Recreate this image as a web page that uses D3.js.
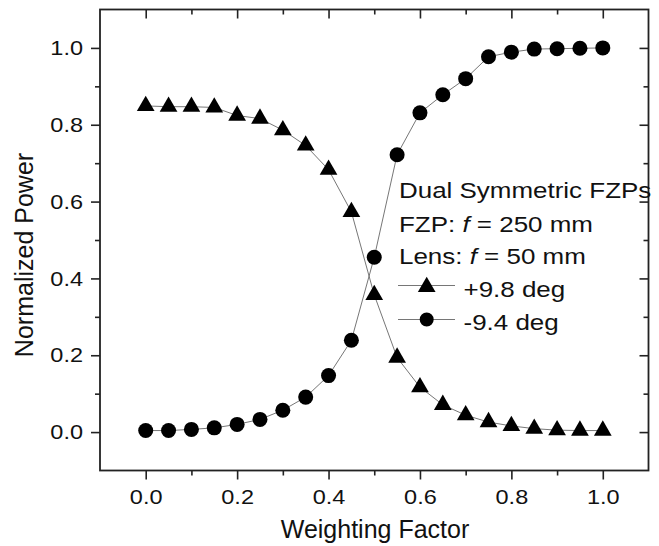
<!DOCTYPE html>
<html>
<head>
<meta charset="utf-8">
<script src="https://cdn.jsdelivr.net/npm/d3@7"></script>
<style>
  body { margin: 0; background: #fff; }
  text { font-family: "Liberation Sans", Arial, sans-serif; fill: #111; }
</style>
</head>
<body>
<div id="chart"></div>
<script>
// weighting factor (x) and the two measured series
const weighting = [0, 0.05, 0.1, 0.15, 0.2, 0.25, 0.3, 0.35, 0.4, 0.45, 0.5,
                   0.55, 0.6, 0.65, 0.7, 0.75, 0.8, 0.85, 0.9, 0.95, 1.0];
const plus98 = [0.849, 0.847, 0.847, 0.845, 0.824, 0.816, 0.786, 0.746, 0.683, 0.573, 0.357,
                0.194, 0.117, 0.071, 0.044, 0.026, 0.016, 0.009, 0.005, 0.004, 0.004];
const minus94 = [0.004, 0.004, 0.007, 0.011, 0.02, 0.033, 0.057, 0.091, 0.147, 0.239, 0.455,
                 0.722, 0.831, 0.878, 0.92, 0.977, 0.989, 0.997, 0.998, 0.999, 1.0];
const majorTicks = [0, 0.2, 0.4, 0.6, 0.8, 1.0];
const minorTicks = [0.1, 0.3, 0.5, 0.7, 0.9];
const legendNotes = ['Dual Symmetric FZPs', 'FZP: |f| = 250 mm', 'Lens: |f| = 50 mm'];
const seriesNames = ['+9.8 deg', '-9.4 deg'];

const W = 659, H = 546;
const svg = d3.select('#chart').append('svg').attr('width', W).attr('height', H);

const x = d3.scaleLinear().domain([-0.1, 1.1]).range([100, 648.5]);
const y = d3.scaleLinear().domain([-0.1, 1.1]).range([470.5, 9.5]);
const fmt = d3.format('.1f');

// axes: major + minor ticks, outward on left/bottom, inward on top/right
function addAxis(axisFn, scale, transform, ticks, size, labels) {
  const a = axisFn(scale).tickValues(ticks).tickSize(size).tickSizeOuter(0)
    .tickFormat(labels ? fmt : '');
  const g = svg.append('g').attr('transform', transform).call(a);
  g.select('.domain').remove();
  g.selectAll('line').attr('stroke', '#222').attr('stroke-width', 1.6);
  return g;
}
const bx = addAxis(d3.axisBottom, x, 'translate(0,470.5)', majorTicks, 9, true);
addAxis(d3.axisBottom, x, 'translate(0,470.5)', minorTicks, 5, false);
addAxis(d3.axisTop, x, 'translate(0,9.5)', majorTicks, -9, false);
addAxis(d3.axisTop, x, 'translate(0,9.5)', minorTicks, -5, false);
const ly = addAxis(d3.axisLeft, y, 'translate(100,0)', majorTicks, 9, true);
addAxis(d3.axisLeft, y, 'translate(100,0)', minorTicks, 5, false);
addAxis(d3.axisRight, y, 'translate(648.5,0)', majorTicks, -9, false);
addAxis(d3.axisRight, y, 'translate(648.5,0)', minorTicks, -5, false);

bx.selectAll('text').attr('y', 0).attr('dy', null)
  .attr('transform', 'translate(0,33.5) scale(1.12,1)')
  .style('font-size', '21px').style('font-family', '"Liberation Sans", Arial, sans-serif').attr('fill', '#111');
ly.selectAll('text').attr('x', 0)
  .attr('transform', 'translate(-17,0) scale(1.12,1)')
  .style('font-size', '21px').style('font-family', '"Liberation Sans", Arial, sans-serif').attr('fill', '#111');

// frame
svg.append('rect').attr('x', x(-0.1)).attr('y', y(1.1))
  .attr('width', x(1.1) - x(-0.1)).attr('height', y(-0.1) - y(1.1))
  .attr('fill', 'none').attr('stroke', '#222').attr('stroke-width', 1.8);

// axis titles
svg.append('text').attr('x', 375).attr('y', 538).attr('text-anchor', 'middle')
  .style('font-size', '25px').text('Weighting Factor');
svg.append('text').attr('transform', 'translate(33,255) rotate(-90)').attr('text-anchor', 'middle')
  .style('font-size', '25px').text('Normalized Power');

// series
const tri = d3.symbol().type(d3.symbolTriangle).size(136);
const dot = d3.symbol().type(d3.symbolCircle).size(177);
const line = d3.line().x(d => x(d[0])).y(d => y(d[1]));
const series = [
  { vals: plus98, sym: tri },
  { vals: minus94, sym: dot }
];
series.forEach(s => {
  const pts = weighting.map((w, i) => [w, s.vals[i]]);
  svg.append('path').attr('d', line(pts)).attr('fill', 'none')
    .attr('stroke', '#666').attr('stroke-width', 0.9);
});
series.forEach(s => {
  svg.append('g').selectAll('path').data(weighting.map((w, i) => [w, s.vals[i]])).join('path')
    .attr('transform', d => `translate(${x(d[0])},${y(d[1])})`)
    .attr('d', s.sym()).attr('fill', '#000');
});

// legend / annotation
const noteY = [198.3, 231.5, 264];
legendNotes.forEach((t, i) => {
  const txt = svg.append('text').attr('transform', `translate(399,${noteY[i]}) scale(1.18,1)`)
    .style('font-size', '22px');
  t.split('|').forEach((part, j) => {
    txt.append('tspan').style('font-style', j === 1 ? 'italic' : 'normal').text(part);
  });
});
const legY = [287, 319.5];
const legSyms = [d3.symbol().type(d3.symbolTriangle).size(136)(), d3.symbol().type(d3.symbolCircle).size(154)()];
seriesNames.forEach((name, i) => {
  svg.append('line').attr('x1', 398).attr('x2', 455).attr('y1', legY[i] - (i === 0 ? 1.5 : 0)).attr('y2', legY[i] - (i === 0 ? 1.5 : 0))
    .attr('stroke', '#666').attr('stroke-width', 0.9);
  svg.append('path').attr('transform', `translate(426.7,${legY[i]})`).attr('d', legSyms[i]).attr('fill', '#000');
  svg.append('text').attr('transform', `translate(463.5,${legY[i] + 10}) scale(1.18,1)`)
    .style('font-size', '22px').text(name);
});
</script>
</body>
</html>
